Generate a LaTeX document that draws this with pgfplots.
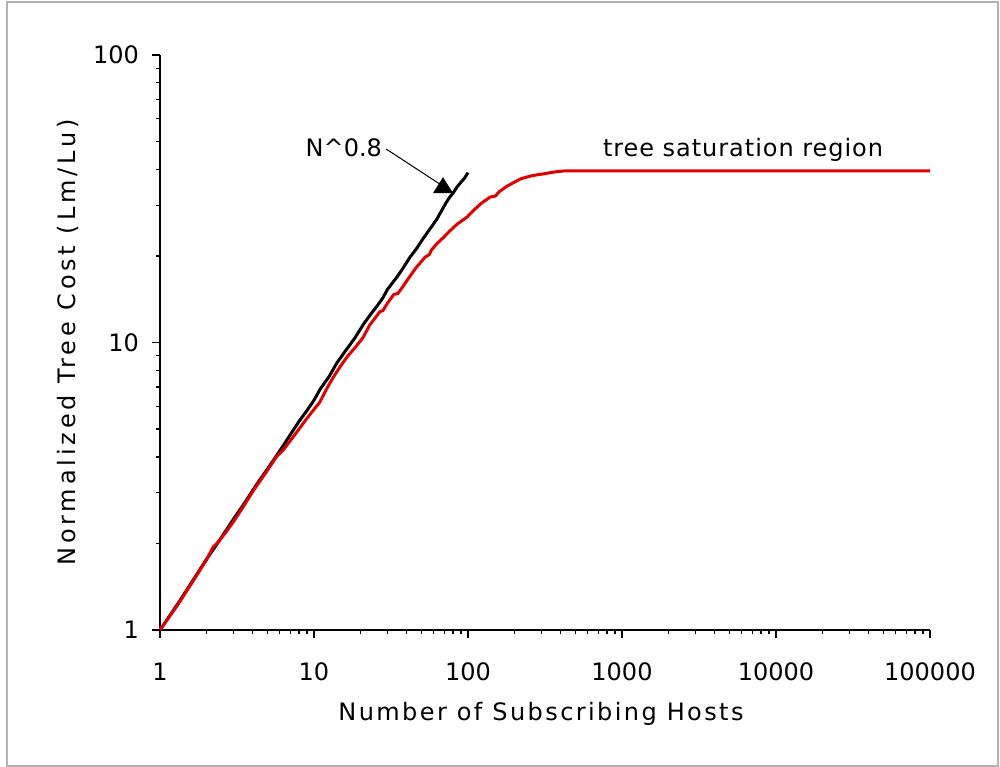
\documentclass[border=0pt]{standalone}
\usepackage{fontspec}
\setmainfont{DejaVu Sans}
\usepackage{pgfplots}
\pgfplotsset{compat=1.18}
\definecolor{myred}{RGB}{228,0,0}
\begin{document}
\begin{tikzpicture}[x=1pt,y=1pt]
\path (0,0) rectangle (1000,767);
\draw[gray!60, line width=1.5pt] (7,1) rectangle (998,765);
\begin{axis}[at={(160pt,137pt)}, anchor=south west, scale only axis,
  width=770pt, height=575pt,
  xmode=log, ymode=log, xmin=1, xmax=100000, ymin=1, ymax=100,
  axis x line*=bottom, axis y line*=left,
  axis line style={-, line width=1.2pt},
  tick align=outside, major tick length=8pt, minor tick length=4.5pt,
  every tick/.style={line width=1.2pt, black},
  log ticks with fixed point,
  /pgf/number format/assume math mode=true,
  /pgf/number format/1000 sep={},
  xtick={1,10,100,1000,10000,100000}, ytick={1,10,100},
  ticklabel style={font=\fontsize{24}{28}\selectfont},
  xticklabel style={anchor=center, yshift=-34pt},
  yticklabel style={anchor=east, inner sep=0pt, xshift=-13pt},
  clip=false,
  xlabel={Number of Subscribing Hosts},
  ylabel={Normalized Tree Cost (Lm/Lu)},
  xlabel style={at={(axis description cs:0.4948,-0.1461)}, anchor=center, font=\fontsize{24}{28}\selectfont\addfontfeatures{LetterSpace=10}},
  ylabel style={at={(axis description cs:-0.1195,0.5)}, anchor=center, rotate=0, font=\fontsize{24}{28}\selectfont\addfontfeatures{LetterSpace=16}},
]
\addplot[black, line width=3pt] coordinates {
(1,1) (1.3,1.23) (1.6,1.46) (2,1.76) (2.3,1.96) (2.7,2.23) (3,2.43) (3.5,2.74) (4,3.06) (4.5,3.36) (5,3.64) (6,4.2) (7,4.77) (8,5.32) (9,5.8) (10,6.3) (11,6.9) (12.5,7.6) (14.1,8.5) (16,9.35) (18.5,10.4) (21,11.6) (23.5,12.6) (25.7,13.4) (28,14.3) (30,15.3) (34.6,16.9) (38,18.2) (42,19.8) (46.6,21.3) (50,22.6) (55,24.3) (59,25.6) (62.9,26.9) (67,28.6) (72,30.6) (76,32.0) (80,33.1) (85,34.8) (90,36.1) (95,37.3) (100,39.0)
};
\addplot[myred, line width=3pt] coordinates {
(1,1) (1.3,1.22) (1.6,1.45) (2,1.75) (2.21,1.94) (2.38,2.02) (2.7,2.2) (3,2.38) (3.5,2.7) (4,3.03) (4.5,3.32) (5,3.6) (5.7,4.0) (6.3,4.22) (7,4.55) (8,5.0) (9,5.45) (10,5.85) (10.9,6.2) (12,6.85) (13.3,7.55) (14.7,8.2) (16.5,8.95) (18.5,9.6) (20.8,10.4) (23,11.5) (26.8,12.8) (28,12.9) (30,13.7) (33,14.7) (35,14.8) (37.3,15.5) (41,16.7) (46,18.2) (52.6,19.8) (56,20.2) (58,21.0) (63,22.1) (68.8,23.1) (76,24.4) (85,25.8) (98.6,27.3) (110,29.0) (123,30.6) (140,32.1) (150,32.3) (160,33.5) (178,34.9) (196,35.9) (220,37.1) (253,37.9) (280,38.3) (310,38.6) (345,39.0) (378,39.3) (420,39.5) (100000,39.5)
};
\draw[line width=1pt] (axis cs:29.4,47.1) -- (axis cs:66,35.5);
\fill (axis cs:68.8,37.6) -- (axis cs:59.3,33.1) -- (axis cs:79.9,33.1) -- cycle;
\node[anchor=east, inner sep=0pt, font=\fontsize{24}{28}\selectfont] at (axis cs:27.7,47.5) {N\textasciicircum 0.8};
\node[anchor=center, inner sep=0pt, font=\fontsize{24}{28}\selectfont\addfontfeatures{LetterSpace=4}] at (axis cs:6109,46.7) {tree saturation region};
\end{axis}
\end{tikzpicture}
\end{document}
